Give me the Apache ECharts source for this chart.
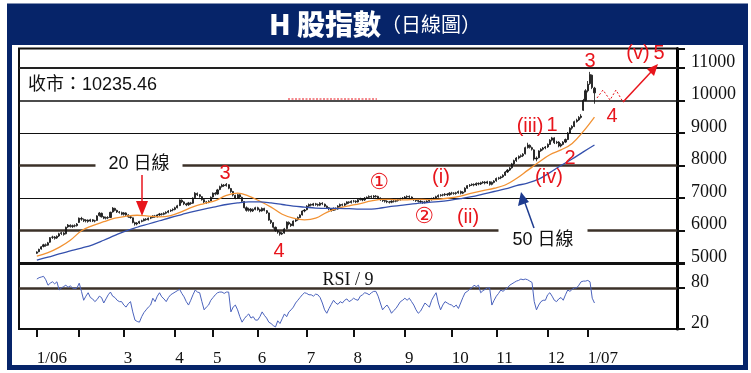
<!DOCTYPE html>
<html><head><meta charset="utf-8">
<script src="https://cdn.jsdelivr.net/npm/echarts@6/dist/echarts.min.js"></script>
<style>html,body{margin:0;padding:0;background:#fff}#c{width:751px;height:373px}</style>
</head><body><div id="c"></div>
<script>
// ---------- data ----------
const monthLabels = ['1/06','','3','4','5','6','7','8','9','10','11','12','1/07'];
const monthDays = [19,20,23,17,20,22,21,23,21,20,23,18];
const mainTicks = [5000,6000,7000,8000,9000,10000,11000];
const rsiTicks = [20,80];
const lastCloseText = '收市：10235.46';
// daily candles [open, close, low, high], Jan 2006 - early Jan 2007
const candles = [
[5300,5340,5280,5360],[5350,5420,5330,5440],[5430,5500,5410,5520],[5510,5560,5480,5590],[5560,5540,5500,5600],
[5550,5620,5530,5650],[5640,5780,5620,5800],[5790,5800,5740,5840],[5800,5760,5720,5830],[5770,5820,5740,5850],
[5830,5900,5800,5930],[5910,5930,5860,5960],[5920,5880,5840,5950],[5900,6100,5880,6120],[6110,6170,6080,6200],
[6160,6120,6090,6190],[6120,6150,6080,6180],[6150,6140,6100,6190],[6150,6200,6120,6230],
[6250,6380,6230,6400],[6370,6350,6300,6420],[6340,6300,6260,6370],[6300,6320,6250,6350],[6320,6280,6240,6340],
[6290,6330,6260,6360],[6330,6290,6260,6350],[6290,6300,6250,6330],[6310,6450,6300,6470],[6460,6540,6430,6570],
[6530,6420,6400,6550],[6420,6380,6350,6440],[6380,6400,6340,6430],[6400,6390,6350,6440],[6400,6560,6390,6580],
[6570,6690,6550,6720],[6680,6620,6590,6700],[6620,6570,6540,6640],[6570,6560,6520,6600],
[6550,6500,6470,6580],[6500,6540,6460,6570],[6540,6480,6450,6560],[6480,6420,6390,6500],[6420,6400,6360,6450],
[6390,6250,6220,6400],[6240,6200,6150,6270],[6200,6230,6160,6260],[6230,6280,6200,6300],[6280,6300,6250,6330],
[6300,6350,6280,6370],[6350,6330,6300,6380],[6330,6380,6310,6400],[6380,6400,6350,6420],[6400,6450,6380,6470],
[6450,6420,6390,6480],[6420,6480,6400,6500],[6480,6510,6450,6540],[6510,6500,6460,6540],[6500,6530,6470,6560],
[6530,6560,6500,6590],[6560,6600,6530,6630],[6600,6620,6570,6650],
[6630,6650,6590,6680],[6650,6700,6620,6730],[6700,6760,6680,6790],[6770,6940,6750,6960],[6930,6880,6840,6960],
[6880,6820,6780,6900],[6820,6790,6750,6850],[6790,6850,6760,6880],[6850,6830,6790,6880],[6840,7000,6820,7020],
[7010,7150,6990,7180],[7140,7100,7060,7170],[7100,7050,7010,7120],[7040,6950,6920,7060],[6950,6880,6840,6970],
[6880,6870,6820,6910],[6870,6900,6840,6930],
[6910,7020,6900,7050],[7030,7150,7010,7170],[7150,7120,7080,7180],[7120,7250,7100,7280],[7260,7350,7240,7380],
[7350,7400,7320,7440],[7400,7380,7340,7430],[7380,7420,7350,7460],[7410,7300,7270,7420],[7290,7200,7160,7310],
[7200,7090,7050,7220],[7080,7000,6960,7100],[7000,7100,6980,7130],[7100,7030,7000,7120],[7020,6900,6870,7040],
[6890,6700,6680,6900],[6700,6620,6580,6740],[6620,6660,6580,6700],[6660,6600,6560,6690],[6600,6650,6570,6680],
[6650,6700,6620,6730],
[6700,6640,6610,6730],[6640,6600,6560,6670],[6600,6680,6580,6710],[6680,6620,6590,6700],[6610,6550,6510,6630],
[6540,6320,6300,6550],[6310,6250,6200,6340],[6240,6100,6060,6260],[6100,6000,5960,6120],[5990,5950,5900,6020],
[5950,5890,5840,5970],[5890,5920,5860,5950],[5920,6050,5900,6080],[6060,6260,6040,6280],[6250,6200,6160,6280],
[6200,6150,6110,6220],[6150,6290,6130,6310],[6290,6330,6260,6360],[6330,6400,6300,6430],[6400,6480,6380,6500],
[6480,6600,6460,6620],[6600,6630,6560,6660],
[6640,6750,6620,6780],[6750,6800,6720,6830],[6800,6780,6740,6830],[6780,6820,6750,6850],[6820,6800,6760,6850],
[6800,6780,6740,6830],[6780,6840,6750,6870],[6840,6820,6780,6870],[6810,6750,6720,6830],[6750,6700,6660,6770],
[6700,6660,6620,6720],[6660,6620,6580,6680],[6620,6680,6600,6710],[6680,6660,6620,6710],[6660,6750,6640,6780],
[6750,6800,6720,6830],[6800,6780,6740,6830],[6780,6820,6750,6850],[6820,6880,6800,6900],[6880,6860,6820,6900],
[6860,6900,6830,6930],
[6900,6900,6860,6940],[6900,6880,6840,6930],[6880,6950,6860,6980],[6950,6980,6920,7010],[6980,6940,6900,7000],
[6940,7000,6910,7030],[7000,7020,6970,7050],[7020,7050,6990,7080],[7050,7030,6990,7080],[7030,7060,7000,7090],
[7060,7050,7010,7090],[7050,7000,6960,7070],[7000,6950,6910,7020],[6950,6920,6880,6980],[6920,6900,6860,6950],
[6900,6880,6840,6930],[6880,6870,6830,6910],[6870,6900,6840,6930],[6900,6900,6860,6940],[6900,6920,6870,6950],
[6920,6950,6890,6980],[6950,6980,6920,7010],[6980,7000,6950,7030],
[7000,7030,6970,7060],[7030,7050,7000,7080],[7050,7030,6990,7080],[7030,6980,6950,7050],[6980,6950,6910,7000],
[6950,6920,6880,6980],[6920,6900,6860,6950],[6900,6880,6840,6930],[6880,6860,6820,6910],[6860,6880,6830,6910],
[6880,6900,6850,6930],[6900,6950,6870,6980],[6950,6980,6920,7010],[6980,7000,6950,7030],[7000,7040,6970,7070],
[7040,7080,7010,7110],[7080,7090,7040,7120],[7090,7100,7050,7130],[7100,7120,7060,7150],[7120,7100,7060,7150],
[7100,7150,7070,7180],
[7150,7150,7100,7190],[7150,7140,7100,7180],[7140,7160,7100,7190],[7160,7200,7130,7230],[7200,7150,7110,7230],
[7150,7180,7120,7210],[7190,7300,7170,7330],[7300,7380,7280,7400],[7380,7400,7340,7430],[7400,7420,7370,7450],
[7420,7400,7360,7450],[7400,7450,7370,7480],[7450,7430,7390,7480],[7430,7470,7400,7500],[7470,7490,7440,7520],
[7490,7460,7420,7520],[7460,7500,7430,7530],[7500,7420,7380,7520],[7420,7480,7390,7510],[7480,7520,7450,7550],
[7530,7600,7500,7630],[7600,7620,7560,7650],[7620,7650,7580,7680],[7650,7700,7620,7730],[7700,7800,7680,7830],
[7800,7860,7770,7890],[7860,7920,7830,7950],[7930,8050,7900,8080],[8050,8150,8020,8180],[8150,8230,8110,8260],
[8230,8280,8190,8310],[8280,8300,8240,8340],[8300,8350,8260,8380],[8360,8550,8340,8580],[8550,8630,8520,8700],
[8620,8560,8520,8650],[8550,8500,8460,8580],[8480,8200,8150,8500],[8200,8230,8130,8280],[8240,8450,8220,8470],
[8450,8500,8420,8530],[8500,8540,8460,8570],
[8540,8570,8500,8600],[8570,8650,8540,8680],[8650,8780,8630,8810],[8780,8850,8740,8880],[8850,8700,8660,8870],
[8700,8720,8660,8760],[8720,8600,8560,8750],[8600,8650,8560,8690],[8650,8720,8620,8750],[8720,8800,8690,8830],
[8800,9000,8780,9030],[9000,9150,8980,9180],[9150,9200,9100,9240],[9200,9350,9180,9380],[9350,9400,9320,9440],
[9400,9480,9370,9520],[9480,9520,9440,9580],[9700,10000,9680,10050],[10000,10300,9980,10350],
[10300,10500,10250,10600],[10520,10800,10480,10880],[10780,10400,10350,10800],[10380,10235,9900,10420]
];
// 20-day and 50-day moving averages, one reading every 5 trading days
const ma20 = [5215,5320,5480,5700,5990,6150,6270,6380,6440,6470,6440,6420,6460,6580,6730,6830,6920,7080,7150,7060,
6900,6720,6500,6380,6330,6380,6560,6690,6760,6830,6910,6960,6950,6940,6960,6950,6960,7000,7060,7150,
7230,7300,7400,7600,7850,8100,8330,8480,8680,9050,9490];
const ma50 = [5090,5180,5280,5370,5460,5560,5700,5850,5990,6100,6200,6300,6400,6490,6580,6660,6730,6800,6850,6880,
6880,6850,6800,6750,6720,6690,6680,6680,6670,6660,6660,6700,6750,6790,6830,6860,6890,6930,6980,7040,
7120,7200,7280,7380,7460,7580,7780,8000,8200,8420,8630];
// 9-day RSI, daily
const rsi9 = [
93,95,96,97,92,84,87,89,86,89,77,80,82,84,81,83,80,79,80,
87,75,62,68,73,66,64,60,63,68,66,58,64,70,74,68,66,62,60,
60,55,52,57,60,45,33,31,30,38,44,48,52,55,65,60,68,73,67,64,60,66,70,
72,74,76,78,72,67,60,55,62,70,77,74,73,60,48,52,55,
62,66,70,73,74,74,72,74,74,45,52,55,48,38,30,35,39,42,36,38,33,
33,38,45,40,36,30,28,25,23,32,28,35,42,38,45,48,52,58,62,66,70,73,
72,70,70,68,71,70,66,58,48,43,50,56,62,58,56,60,58,62,64,60,62,
65,63,62,68,70,73,72,70,73,75,75,68,58,48,52,55,50,43,47,50,55,60,62,
65,62,65,60,55,48,43,46,52,58,55,52,62,68,73,58,48,55,60,58,56,
55,52,55,50,58,66,73,75,78,80,84,82,84,73,76,78,80,80,55,62,
68,72,77,75,78,80,84,86,88,90,91,93,92,93,92,90,88,60,48,55,60,62,
62,70,73,68,62,60,64,66,62,70,77,75,78,80,80,84,89,90,90,
91,89,65,58
];

// ---------- layout ----------
const LEAD = 8, TOTAL = 296, MA_STEP = 5;
const cats = Array.from({length: TOTAL}, (_, i) => String(i));
const monthStart = [LEAD];
monthDays.forEach(d => monthStart.push(monthStart[monthStart.length - 1] + d));
const labelAt = {};
monthStart.forEach((idx, k) => labelAt[idx] = monthLabels[k]);
const isMonth = (i) => labelAt[i] !== undefined;

const RED = '#e8151c', NAVY = '#062469', BROWN = '#3b3128';
const serif = '"Liberation Serif","DejaVu Serif",serif';
const sans = '"Liberation Sans","Noto Sans CJK TC",sans-serif';

const lineStyles = {
  6000: {width: 2.5, color: BROWN}, 7000: {width: 1, color: '#111'},
  8000: {width: 2.5, color: BROWN}, 9000: {width: 1, color: '#111'}, 10000: {width: 1.5, color: '#111'},
  11000: {width: 2, color: '#222'}
};

const chart = echarts.init(document.getElementById('c'));
const txt = (x, y, s, o) => Object.assign({type: 'text', x, y, z: 60, style: Object.assign({
  text: s, fill: RED, font: '20px ' + sans, align: 'center', verticalAlign: 'middle'}, o || {})});

chart.setOption({
  animation: false,
  backgroundColor: '#fff',
  grid: [
    {left: 19, right: 74, top: 48.5, height: 214.5, show: true, borderColor: '#111', borderWidth: 2},
    {left: 19, right: 74, top: 264, height: 65, show: true, borderColor: '#111', borderWidth: 2}
  ],
  xAxis: [
    {type: 'category', gridIndex: 0, data: cats, boundaryGap: false,
     axisLine: {show: false}, axisTick: {show: false}, axisLabel: {show: false}, splitLine: {show: false}},
    {type: 'category', gridIndex: 1, data: cats, boundaryGap: false,
     axisLine: {show: false},
     axisTick: {show: true, interval: (i) => isMonth(i), length: 8, lineStyle: {color: '#111', width: 2}},
     axisLabel: {show: true, interval: (i) => isMonth(i), formatter: (v, i) => labelAt[i] || '',
       align: 'left', margin: 21, fontFamily: serif, fontSize: 17, color: '#111'},
     splitLine: {show: false}}
  ],
  yAxis: [
    {type: 'value', gridIndex: 0, position: 'right', min: 5000, max: 11600, interval: 1000,
     axisLine: {show: true, lineStyle: {color: '#000', width: 3}},
     axisTick: {show: true, length: 8, lineStyle: {color: '#111', width: 2}},
     axisLabel: {formatter: v => (mainTicks.indexOf(v) >= 0 ? String(v) : ''), margin: 14,
       fontFamily: serif, fontSize: 18, color: '#111', verticalAlign: 'bottom', lineHeight: 12},
     splitLine: {show: false}},
    {type: 'value', gridIndex: 1, position: 'right', min: 20, max: 115, interval: 60,
     axisLine: {show: true, lineStyle: {color: '#000', width: 3}},
     axisTick: {show: true, length: 8, lineStyle: {color: '#111', width: 2}},
     axisLabel: {formatter: v => (rsiTicks.indexOf(v) >= 0 ? String(v) : ''), margin: 14,
       fontFamily: serif, fontSize: 18, color: '#111', verticalAlign: 'bottom', lineHeight: 12},
     splitLine: {show: false}}
  ],
  series: [
    {type: 'candlestick', xAxisIndex: 0, yAxisIndex: 0, z: 3,
     data: candles.map((c, i) => [LEAD + i, c[0], c[1], c[2], c[3]]),
     encode: {x: 0, y: [1, 2, 3, 4]},
     barWidth: 1.6,
     itemStyle: {color: '#222', color0: '#222', borderColor: '#111', borderColor0: '#111', borderWidth: 0.8},
     markLine: {silent: true, z: 1, symbol: ['none', 'none'], label: {show: false},
       data: mainTicks.filter(v => v > 5000).map(v => ({yAxis: v, lineStyle: Object.assign({type: 'solid'}, lineStyles[v])}))}},
    {type: 'line', xAxisIndex: 0, yAxisIndex: 0, z: 4, smooth: 0.4, showSymbol: false,
     data: ma20.map((v, k) => [LEAD + k * MA_STEP, v]),
     lineStyle: {color: '#f29233', width: 1.3}},
    {type: 'line', xAxisIndex: 0, yAxisIndex: 0, z: 4, smooth: 0.4, showSymbol: false,
     data: ma50.map((v, k) => [LEAD + k * MA_STEP, v]),
     lineStyle: {color: '#3450ad', width: 1.3}},
    {type: 'line', xAxisIndex: 1, yAxisIndex: 1, z: 4, showSymbol: false,
     data: rsi9.map((v, i) => [LEAD + i, v]),
     lineStyle: {color: '#4b63bd', width: 1},
     markLine: {silent: true, z: 1, symbol: ['none', 'none'], label: {show: false},
       data: [{yAxis: 80, lineStyle: {type: 'solid', width: 2.5, color: BROWN}}]}}
  ],
  graphic: [
    {type: 'rect', z: 0, shape: {x: 9.5, y: 6, width: 736, height: 361.5}, style: {fill: null, stroke: NAVY, lineWidth: 5}},
    {type: 'rect', z: 1, shape: {x: 7, y: 4, width: 741, height: 41}, style: {fill: NAVY}},
    {type: 'text', z: 2, x: 375, y: 24, style: {
      text: '{a|H 股指數}{b|（日線圖）}', align: 'center', verticalAlign: 'middle',
      rich: {a: {fill: '#fff', font: '900 28px "Noto Sans CJK TC",sans-serif'},
             b: {fill: '#fff', font: '20px "Noto Sans CJK TC",sans-serif'}}}},
    txt(28, 85, lastCloseText, {fill: '#111', font: '18px ' + sans, align: 'left'}),
    txt(139, 164, '20 日線', {fill: '#111', font: '18px ' + sans, backgroundColor: '#fff', padding: [3, 13]}),
    txt(543, 240, '50 日線', {fill: '#111', font: '18px ' + sans, backgroundColor: '#fff', padding: [3, 14]}),
    txt(348, 280, 'RSI / 9', {fill: '#111', font: '18px ' + serif}),
    // wave labels
    txt(225, 173, '3'), txt(279, 251, '4'),
    txt(379, 183, '①', {font: '22px "DejaVu Sans",sans-serif'}),
    txt(424, 217, '②', {font: '22px "DejaVu Sans",sans-serif'}),
    txt(441, 177, '(i)'), txt(468, 217, '(ii)'),
    txt(530, 126, '(iii)'), txt(552, 125, '1'),
    txt(549, 177, '(iv)'), txt(570, 158, '2'),
    txt(590, 61, '3'), txt(612, 116, '4'),
    txt(638, 53, '(v)'), txt(659, 53, '5'),
    // arrows
    {type: 'line', z: 60, shape: {x1: 142, y1: 175, x2: 142, y2: 204}, style: {stroke: RED, lineWidth: 1.5}},
    {type: 'polygon', z: 60, shape: {points: [[136, 201], [148, 201], [142, 216]]}, style: {fill: RED}},
    {type: 'line', z: 60, shape: {x1: 534, y1: 228, x2: 525, y2: 203}, style: {stroke: '#1d3b8f', lineWidth: 1.5}},
    {type: 'polygon', z: 60, shape: {points: [[521, 192], [518, 206], [529, 202]]}, style: {fill: '#1d3b8f'}},
    {type: 'line', z: 60, shape: {x1: 623, y1: 102, x2: 651, y2: 72}, style: {stroke: RED, lineWidth: 1.5}},
    {type: 'polygon', z: 60, shape: {points: [[658, 64], [647, 69], [654, 76]]}, style: {fill: RED}},
    {type: 'polyline', z: 60, shape: {points: [[597, 98], [603, 90], [610, 100], [616, 90], [623, 102]]},
     style: {stroke: RED, lineWidth: 1, lineDash: [2, 2], fill: null}},
    {type: 'line', z: 60, shape: {x1: 288, y1: 99, x2: 377, y2: 99}, style: {stroke: RED, lineWidth: 1, lineDash: [2, 1.5]}}
  ]
});
</script></body></html>
